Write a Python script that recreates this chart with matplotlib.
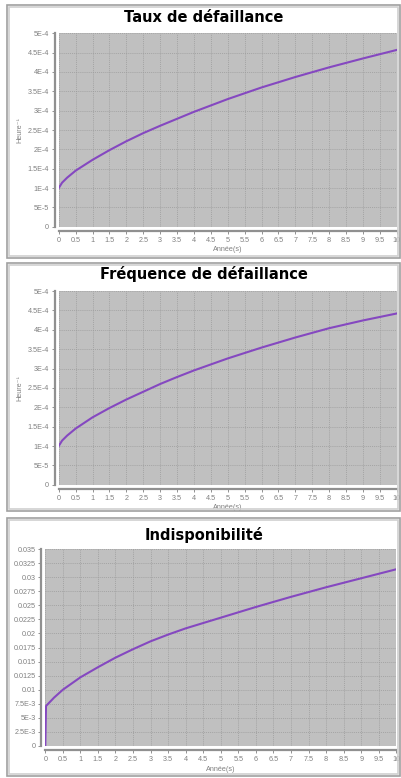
import matplotlib
matplotlib.use("Agg")
import matplotlib.pyplot as plt
from matplotlib.patches import Rectangle

# --- data ---
titles = ["Taux de défaillance", "Fréquence de défaillance", "Indisponibilité"]

t_rate = [0, 0.1, 0.25, 0.5, 1, 1.5, 2, 2.5, 3, 3.5, 4, 5, 6, 7, 8, 9, 10]
taux = [1.00e-4, 1.14e-4, 1.27e-4, 1.45e-4, 1.73e-4, 1.98e-4, 2.21e-4, 2.42e-4,
        2.61e-4, 2.79e-4, 2.97e-4, 3.30e-4, 3.60e-4, 3.87e-4, 4.12e-4, 4.35e-4, 4.57e-4]
frequence = [1.00e-4, 1.14e-4, 1.27e-4, 1.45e-4, 1.74e-4, 1.98e-4, 2.20e-4, 2.40e-4,
             2.60e-4, 2.78e-4, 2.95e-4, 3.26e-4, 3.54e-4, 3.80e-4, 4.04e-4, 4.24e-4, 4.42e-4]

t_indispo = [0, 0.02, 0.25, 0.5, 1, 1.5, 2, 2.5, 3, 3.5, 4, 5, 6, 7, 8, 9, 10]
indispo = [0, 0.0071, 0.0086, 0.0100, 0.0122, 0.0140, 0.0157, 0.0172, 0.0186,
           0.0198, 0.0209, 0.0228, 0.0247, 0.0265, 0.0282, 0.0298, 0.0314]

x_ticks = [i * 0.5 for i in range(21)]
x_labels = ["0", "0.5", "1", "1.5", "2", "2.5", "3", "3.5", "4", "4.5", "5",
            "5.5", "6", "6.5", "7", "7.5", "8", "8.5", "9", "9.5", "10"]
y_ticks_rate = [0, 5e-5, 1e-4, 1.5e-4, 2e-4, 2.5e-4, 3e-4, 3.5e-4, 4e-4, 4.5e-4, 5e-4]
y_labels_rate = ["0", "5E-5", "1E-4", "1.5E-4", "2E-4", "2.5E-4", "3E-4",
                 "3.5E-4", "4E-4", "4.5E-4", "5E-4"]
y_ticks_ind = [0, 0.0025, 0.005, 0.0075, 0.01, 0.0125, 0.015, 0.0175, 0.02,
               0.0225, 0.025, 0.0275, 0.03, 0.0325, 0.035]
y_labels_ind = ["0", "2.5E-3", "5E-3", "7.5E-3", "0.01", "0.0125", "0.015", "0.0175",
                "0.02", "0.0225", "0.025", "0.0275", "0.03", "0.0325", "0.035"]

W, H = 402, 778
LINE = "#8548c0"
TICK = "#808080"
SMALL = ["Liberation Sans", "DejaVu Sans"]

fig = plt.figure(figsize=(W / 100, H / 100), dpi=100)
fig.patch.set_facecolor("white")


def px_axes(x0, y0, x1, y1):
    return fig.add_axes([x0 / W, 1 - y1 / H, (x1 - x0) / W, (y1 - y0) / H])


def frame(y0, y1):
    # double grey border around each panel
    for off, col in [(0, "#a0a0a0"), (2, "#d0d0d0")]:
        fig.patches.append(Rectangle(((7 + off) / W, 1 - (y1 - off) / H),
                                     (393 - 2 * off) / W, (y1 - y0 - 2 * off) / H,
                                     transform=fig.transFigure, fill=False,
                                     edgecolor=col, linewidth=1.2))


def panel(box, t, v, yticks, ylabels, title, title_y, ylabel=None, ylabel_y=None):
    ax = px_axes(*box)
    ax.set_facecolor("#c0c0c0")
    ax.plot(t, v, color=LINE, linewidth=1.5, solid_joinstyle="round")
    ax.set_xlim(0, 10)
    ax.set_ylim(yticks[0], yticks[-1])
    ax.set_xticks(x_ticks)
    ax.set_xticklabels(x_labels)
    ax.set_yticks(yticks)
    ax.set_yticklabels(ylabels)
    ax.grid(True, color="#9a9a9a", linestyle=(0, (1.5, 1.5)), linewidth=0.5)
    ax.set_axisbelow(True)
    for s in ["top", "right"]:
        ax.spines[s].set_visible(False)
    for s in ["left", "bottom"]:
        ax.spines[s].set_position(("outward", 3))
        ax.spines[s].set_color("#909090")
        ax.spines[s].set_linewidth(1.6)
    ax.tick_params(axis="both", labelsize=5.2, colors=TICK, length=2, width=0.6, pad=2)
    for lab in ax.get_xticklabels() + ax.get_yticklabels():
        lab.set_fontfamily(SMALL)
    ax.set_xlabel("Année(s)", fontsize=5.2, color=TICK, family=SMALL)
    ax.xaxis.set_label_coords(0.5, -0.1)
    fig.text(204 / W, 1 - title_y / H, title, ha="center", va="center",
             fontsize=10.5, fontweight="bold", color="black")
    if ylabel:
        fig.text(20 / W, 1 - ylabel_y / H, ylabel, rotation=90, ha="center", va="center",
                 fontsize=5.2, color=TICK, family=SMALL)
    return ax


frame(5, 258)
frame(263, 511)
frame(518, 776)

panel((58.7, 33.3, 396.7, 226.8), t_rate, taux, y_ticks_rate, y_labels_rate,
      titles[0], 17, "Heure⁻¹", 130)
panel((58.7, 291, 396.7, 484.8), t_rate, frequence, y_ticks_rate, y_labels_rate,
      titles[1], 274, "Heure⁻¹", 388)
panel((45.3, 549, 396.3, 746), t_indispo, indispo, y_ticks_ind, y_labels_ind,
      titles[2], 535)

fig.savefig("out.png", dpi=100)
